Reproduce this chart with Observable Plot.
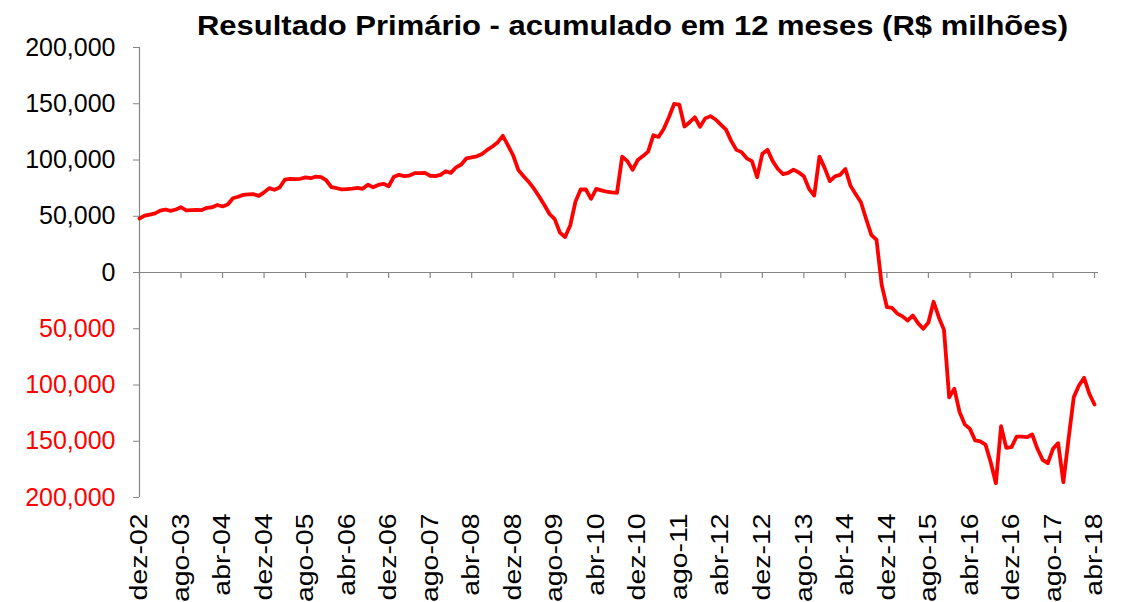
<!DOCTYPE html>
<html><head><meta charset="utf-8">
<script src="https://cdn.jsdelivr.net/npm/d3@7"></script>
<script src="https://cdn.jsdelivr.net/npm/@observablehq/plot@0.6"></script>
<style>
body{margin:0;background:#fff;font-family:"Liberation Sans",Arial,sans-serif;}
#title{position:relative;height:28px;width:1132px;z-index:2;}
#title span{position:absolute;top:12px;left:197px;white-space:nowrap;font-weight:bold;font-size:28px;line-height:1;transform-origin:0 0;color:#000;}
#chart{position:relative;z-index:1;}
</style></head><body>
<div id="title"><span id="tt">Resultado Primário - acumulado em 12 meses (R$ milhões)</span></div>
<div id="chart"></div>
<script>
const tickLabels = ["dez-02","ago-03","abr-04","dez-04","ago-05","abr-06","dez-06","ago-07","abr-08","dez-08","ago-09","abr-10","dez-10","ago-11","abr-12","dez-12","ago-13","abr-14","dez-14","ago-15","abr-16","dez-16","ago-17","abr-18"];
const yTicks = [-200000,-150000,-100000,-50000,0,50000,100000,150000,200000];
// Resultado primário acumulado em 12 meses, R$ milhões, mensal dez-02 .. abr-18
const values = [
48000,50500,51500,52500,55000,56000,54800,56000,58000,55200,55500,55700,
55500,57500,58000,60000,58700,60400,66000,67300,69000,69500,69600,68100,
71200,75000,73500,75500,82500,83300,83000,83300,84600,83800,85300,84700,
81800,75800,75000,73800,74200,74600,75200,74400,78000,75800,77800,78800,
76700,85000,86800,85600,86200,88300,88300,88500,86000,85600,86800,90000,
88600,93500,96000,101500,102400,103300,105300,109000,112000,115600,121500,113000,
104000,91000,85500,80500,74500,67500,60000,52000,47500,35500,31500,42000,
63000,73800,73800,65500,74300,73000,71800,71200,70800,103000,99000,91300,
100000,103500,107500,122000,120500,127500,138000,149800,149300,129800,133600,138000,
129500,137000,139000,136000,131500,127000,117000,109000,107000,101500,99000,84700,
105500,109000,99000,92000,87500,88500,91500,89000,85600,74400,68400,103000,
93000,81200,85500,86800,92000,77000,69500,62500,47500,33500,29000,-11000,
-30800,-31500,-36500,-39000,-42700,-38200,-45000,-50000,-44500,-26000,-39700,-51000,
-111000,-103400,-124000,-135000,-139000,-149300,-150200,-153000,-168600,-187300,-136600,-155900,
-155300,-145800,-145800,-146400,-144000,-156700,-166500,-169500,-156700,-151700,-186400,-148000,
-110800,-100400,-93600,-107800,-117300
];
const data = values.map((v, i) => ({m: i, v}));
const tickMonths = tickLabels.map((_, i) => i * 8);
const axisGray = "#868686";

const chart = Plot.plot({
  width: 1132, height: 574,
  marginTop: 19, marginBottom: 105, marginLeft: 139, marginRight: 38,
  style: {fontFamily: "'Liberation Sans', Arial, sans-serif", fontSize: "25px", color: "#000", background: "transparent"},
  x: {domain: [0, 184], axis: null},
  y: {domain: [-200000, 200000], axis: null},
  color: {type: "identity"},
  marks: [
    Plot.axisY({ticks: yTicks, tickSize: 6, tickPadding: 18, label: null, stroke: axisGray,
      tickFormat: d => d3.format(",")(Math.abs(d)),
      fill: d => d < 0 ? "#ff0000" : "#000000"}),
    Plot.ruleX([0], {stroke: axisGray, strokeWidth: 1.2}),
    Plot.ruleY([0], {stroke: axisGray, strokeWidth: 1.2, insetRight: -4}),
    Plot.ruleX(tickMonths, {x: d => d, y1: 0, y2: 0, insetBottom: -6, stroke: axisGray, strokeWidth: 1.2}),
    Plot.axisX({ticks: tickMonths, tickSize: 0, tickPadding: 16, tickRotate: -90, label: null,
      fontSize: 24, tickFormat: d => tickLabels[Math.round(d / 8)]}),
    Plot.line(data, {x: "m", y: "v", stroke: "#ff0000", strokeWidth: 3.8, strokeLinejoin: "round", strokeLinecap: "round"})
  ]
});
document.getElementById("chart").appendChild(chart);

// stretch rotated x labels and title to match the reference's glyph proportions
const xTexts = d3.select(chart).selectAll('g[aria-label="x-axis tick label"] text');
const first = xTexts.node();
if (first) {
  const len = first.getComputedTextLength();
  const sx = len > 0 ? 87 / len : 1;
  xTexts.each(function() {
    const t = this.getAttribute("transform") || "";
    this.setAttribute("transform", t + ` scale(${sx},1)`);
  });
}
const tt = document.getElementById("tt");
const w = tt.getBoundingClientRect().width;
if (w > 0) tt.style.transform = `scaleX(${871 / w})`;
</script>
</body></html>
